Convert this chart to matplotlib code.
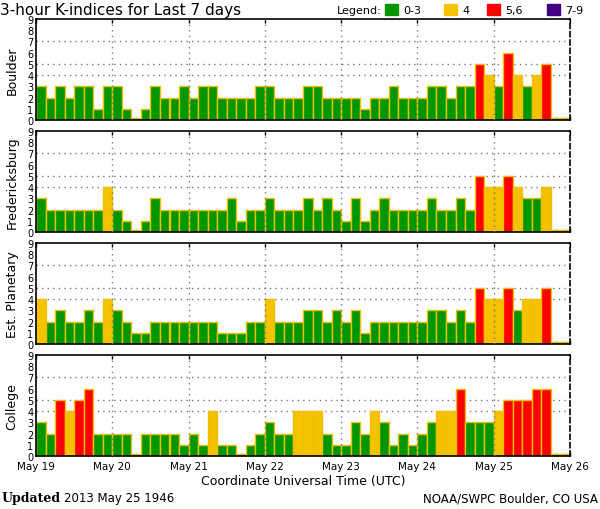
"""
3-hour K-indices for the last 7 days, four stations stacked.
"""

import numpy as np
import matplotlib.pyplot as plt

stations = ["Boulder", "Fredericksburg", "Est. Planetary", "College"]

# one value per 3-hour interval, May 19 00 UT .. May 25 21 UT (56 intervals)
boulder = [3, 2, 3, 2, 3, 3, 1, 3,
           3, 1, 0, 1, 3, 2, 2, 3,
           2, 3, 3, 2, 2, 2, 2, 3,
           3, 2, 2, 2, 3, 3, 2, 2,
           2, 2, 1, 2, 2, 3, 2, 2,
           2, 3, 3, 2, 3, 3, 5, 4,
           3, 6, 4, 3, 4, 5, 0, 0]
fredericksburg = [3, 2, 2, 2, 2, 2, 2, 4,
                  2, 1, 0, 1, 3, 2, 2, 2,
                  2, 2, 2, 2, 3, 1, 2, 2,
                  3, 2, 2, 2, 3, 2, 3, 2,
                  1, 3, 1, 2, 3, 2, 2, 2,
                  2, 3, 2, 2, 3, 2, 5, 4,
                  4, 5, 4, 3, 3, 4, 0, 0]
planetary = [4, 2, 3, 2, 2, 3, 2, 4,
             3, 2, 1, 1, 2, 2, 2, 2,
             2, 2, 2, 1, 1, 1, 2, 2,
             4, 2, 2, 2, 3, 3, 2, 3,
             2, 3, 1, 2, 2, 2, 2, 2,
             2, 3, 3, 2, 3, 2, 5, 4,
             4, 5, 3, 4, 4, 5, 0, 0]
college = [3, 2, 5, 4, 5, 6, 2, 2,
           2, 2, 0, 2, 2, 2, 2, 1,
           2, 1, 4, 1, 1, 0, 1, 2,
           3, 2, 2, 4, 4, 4, 2, 1,
           1, 3, 2, 4, 3, 1, 2, 1,
           2, 3, 4, 4, 6, 3, 3, 3,
           4, 5, 5, 5, 6, 6, 0, 0]
series = [boulder, fredericksburg, planetary, college]

day_labels = ["May 19", "May 20", "May 21", "May 22",
              "May 23", "May 24", "May 25", "May 26"]

GREEN = "#009600"
YELLOW = "#f5c200"
RED = "#ff0000"
PURPLE = "#400080"
EDGE = "#f0c000"


def kp_color(k):
    if k <= 3:
        return GREEN
    if k == 4:
        return YELLOW
    if k <= 6:
        return RED
    return PURPLE


fig = plt.figure(figsize=(6, 5.1), dpi=100)
W, H = 600, 510
left, width = 36 / W, 534 / W
tops = [20, 132, 244, 356]
ph = 101

for i, (name, vals) in enumerate(zip(stations, series)):
    ax = fig.add_axes([left, 1 - (tops[i] + ph) / H, width, ph / H])
    vals = np.array(vals)
    x = np.arange(len(vals)) + 0.5
    heights = np.where(vals == 0, 0.2, vals)
    ax.bar(x, heights, width=1.0, color=[kp_color(v) for v in vals],
           edgecolor=EDGE, linewidth=1.0, zorder=2)

    ax.set_xlim(0, 56)
    ax.set_ylim(0, 9)
    for yy in (4, 5, 7):
        ax.axhline(yy, color="#777777", linestyle=(0, (1, 3)), linewidth=1, zorder=1)
    for d in range(1, 7):
        ax.axvline(d * 8, color="#777777", linestyle=(0, (1, 3)), linewidth=1, zorder=3)

    ax.set_yticks(range(10))
    ax.set_yticklabels([str(v) for v in range(10)], fontsize=7)
    ax.tick_params(axis="y", length=0, pad=2)
    ax.set_xticks(np.arange(0, 57, 8))
    ax.set_xticks(x, minor=True)
    ax.tick_params(axis="x", which="major", direction="in", length=3,
                   top=True, bottom=True, width=1)
    ax.tick_params(axis="x", which="minor", direction="in", length=2,
                   color="#f08000", width=1, bottom=True, top=False)
    if i == 3:
        ax.set_xticklabels(day_labels, fontsize=7.5)
        ax.set_xlabel("Coordinate Universal Time (UTC)", fontsize=9, labelpad=2)
    else:
        ax.set_xticklabels([])

    ax.set_ylabel(name, fontsize=9, labelpad=6)
    ax.spines["right"].set_linestyle((0, (3, 2)))
    for s in ax.spines.values():
        s.set_linewidth(1.2)

# title and legend
fig.text(0.0, 1 - 10 / H, "3-hour K-indices for Last 7 days", fontsize=11,
         ha="left", va="center")
fig.text(337 / W, 1 - 11 / H, "Legend:", fontsize=8, ha="left", va="center")
leg = [(385, GREEN, "0-3"), (444, YELLOW, "4"), (487, RED, "5,6"), (547, PURPLE, "7-9")]
for lx, c, lab in leg:
    fig.patches.append(plt.Rectangle((lx / W, 1 - 16 / H), 13 / W, 11 / H,
                                     transform=fig.transFigure, color=c))
    fig.text((lx + 18) / W, 1 - 11 / H, lab, fontsize=8, ha="left", va="center")

# footer
fig.text(2 / W, 1 - 499 / H, "Updated", fontsize=9, fontweight="bold",
         family="DejaVu Serif", ha="left", va="center")
fig.text(64 / W, 1 - 499 / H, "2013 May 25 1946", fontsize=8.5, ha="left", va="center")
fig.text(598 / W, 1 - 499 / H, "NOAA/SWPC Boulder, CO USA", fontsize=8.5,
         ha="right", va="center")

plt.savefig("out.png", dpi=100)
